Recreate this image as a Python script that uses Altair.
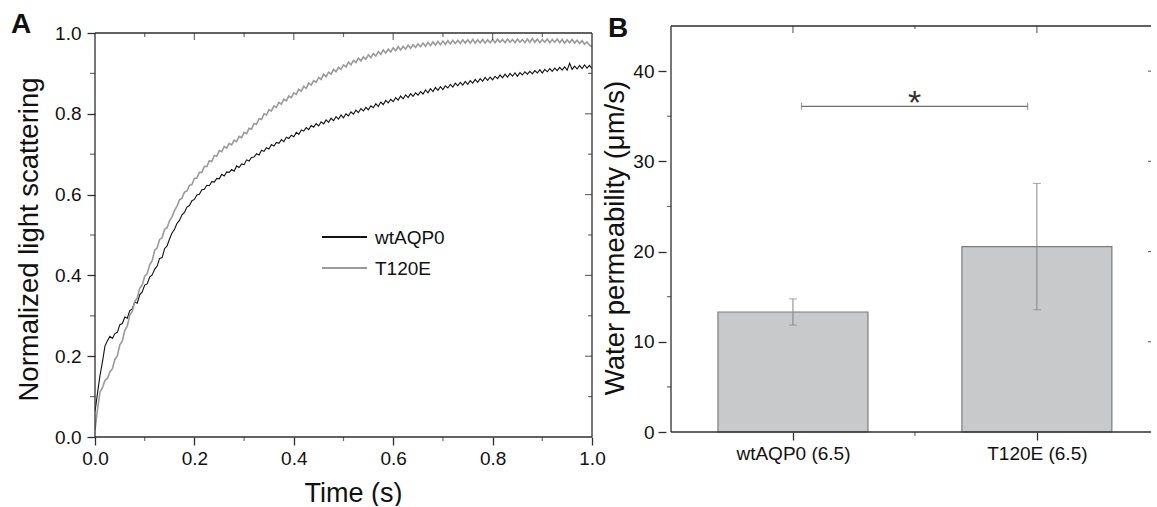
import altair as alt
import pandas as pd

FONT = "Liberation Sans"
INK = "#111111"
FRAME = "#2e2e2e"

# ---------------- Panel A: stopped-flow light scattering ----------------
series_names = ["wtAQP0", "T120E"]
series_colors = ["#111111", "#9a9a9a"]
series_widths = [1.1, 1.6]

time_step = 0.005  # s between samples
wt_signal = [
    0.063, 0.108, 0.152, 0.186, 0.225, 0.238, 0.249, 0.244, 0.256, 0.259,
    0.278, 0.281, 0.297, 0.294, 0.313, 0.317, 0.334, 0.331, 0.352, 0.359,
    0.376, 0.379, 0.396, 0.401, 0.415, 0.423, 0.442, 0.444, 0.466, 0.473,
    0.490, 0.505, 0.514, 0.529, 0.536, 0.550, 0.556, 0.569, 0.573, 0.585,
    0.588, 0.599, 0.601, 0.612, 0.613, 0.623, 0.622, 0.632, 0.631, 0.640,
    0.639, 0.650, 0.646, 0.656, 0.655, 0.662, 0.658, 0.671, 0.667, 0.676,
    0.674, 0.686, 0.683, 0.692, 0.693, 0.701, 0.698, 0.710, 0.707, 0.716,
    0.713, 0.724, 0.720, 0.729, 0.727, 0.736, 0.731, 0.742, 0.739, 0.747,
    0.743, 0.754, 0.749, 0.760, 0.757, 0.766, 0.761, 0.771, 0.767, 0.776,
    0.770, 0.780, 0.775, 0.785, 0.779, 0.789, 0.783, 0.793, 0.787, 0.797,
    0.790, 0.800, 0.795, 0.805, 0.799, 0.809, 0.803, 0.813, 0.807, 0.816,
    0.810, 0.820, 0.815, 0.825, 0.818, 0.829, 0.823, 0.833, 0.827, 0.836,
    0.830, 0.840, 0.834, 0.844, 0.837, 0.847, 0.840, 0.850, 0.843, 0.852,
    0.846, 0.855, 0.849, 0.859, 0.852, 0.862, 0.855, 0.865, 0.858, 0.867,
    0.860, 0.869, 0.864, 0.873, 0.866, 0.876, 0.869, 0.878, 0.871, 0.880,
    0.873, 0.882, 0.876, 0.885, 0.878, 0.887, 0.881, 0.890, 0.883, 0.891,
    0.884, 0.893, 0.887, 0.896, 0.889, 0.898, 0.891, 0.900, 0.893, 0.901,
    0.893, 0.902, 0.896, 0.904, 0.898, 0.905, 0.899, 0.907, 0.901, 0.909,
    0.901, 0.910, 0.904, 0.912, 0.905, 0.913, 0.907, 0.915, 0.908, 0.916,
    0.908, 0.925, 0.910, 0.918, 0.911, 0.920, 0.912, 0.921, 0.913, 0.920,
    0.912,
]
t120e_signal = [
    0.017, 0.068, 0.111, 0.122, 0.140, 0.145, 0.161, 0.169, 0.192, 0.201,
    0.228, 0.238, 0.264, 0.275, 0.302, 0.311, 0.336, 0.344, 0.368, 0.376,
    0.398, 0.404, 0.426, 0.436, 0.462, 0.468, 0.489, 0.493, 0.514, 0.518,
    0.535, 0.545, 0.561, 0.571, 0.587, 0.591, 0.606, 0.609, 0.623, 0.625,
    0.640, 0.641, 0.655, 0.655, 0.670, 0.669, 0.684, 0.682, 0.697, 0.695,
    0.709, 0.706, 0.719, 0.715, 0.727, 0.723, 0.735, 0.731, 0.744, 0.741,
    0.754, 0.751, 0.764, 0.762, 0.776, 0.774, 0.788, 0.786, 0.800, 0.797,
    0.810, 0.807, 0.819, 0.816, 0.828, 0.824, 0.836, 0.832, 0.844, 0.840,
    0.852, 0.848, 0.861, 0.856, 0.868, 0.863, 0.876, 0.871, 0.882, 0.878,
    0.890, 0.885, 0.898, 0.892, 0.903, 0.898, 0.910, 0.904, 0.915, 0.910,
    0.921, 0.916, 0.928, 0.921, 0.932, 0.927, 0.938, 0.931, 0.941, 0.935,
    0.946, 0.939, 0.949, 0.943, 0.954, 0.947, 0.958, 0.950, 0.960, 0.953,
    0.963, 0.956, 0.966, 0.958, 0.967, 0.960, 0.970, 0.962, 0.971, 0.964,
    0.973, 0.966, 0.975, 0.967, 0.977, 0.969, 0.978, 0.970, 0.979, 0.971,
    0.980, 0.972, 0.981, 0.973, 0.982, 0.974, 0.982, 0.974, 0.983, 0.975,
    0.983, 0.975, 0.984, 0.975, 0.983, 0.976, 0.984, 0.975, 0.983, 0.976,
    0.984, 0.976, 0.985, 0.977, 0.984, 0.976, 0.985, 0.977, 0.984, 0.976,
    0.985, 0.977, 0.984, 0.976, 0.985, 0.977, 0.986, 0.977, 0.985, 0.976,
    0.984, 0.977, 0.985, 0.976, 0.984, 0.977, 0.985, 0.976, 0.984, 0.975,
    0.983, 0.976, 0.984, 0.975, 0.982, 0.974, 0.981, 0.972, 0.978, 0.970,
    0.966,
]
time_s = [round(i * time_step, 3) for i in range(len(wt_signal))]

x_ticks_a = [0.0, 0.2, 0.4, 0.6, 0.8, 1.0]
x_minor_a = [0.1, 0.3, 0.5, 0.7, 0.9]
y_ticks_a = [0.0, 0.2, 0.4, 0.6, 0.8, 1.0]
y_minor_a = [0.1, 0.3, 0.5, 0.7, 0.9]

# ---------------- Panel B: osmotic water permeability ----------------
groups = ["wtAQP0 (6.5)", "T120E (6.5)"]
group_pos = [1, 2]
permeability = [13.3, 20.55]
permeability_sd = [1.45, 7.0]
sig_span = [1.035, 1.962]
sig_level = 36.1
sig_mark = "*"
y_ticks_b = [0, 10, 20, 30, 40]
y_minor_b = [5, 15, 25, 35]
x_minor_b = [1.5]
y_right_b = [10, 20, 30, 40]

# ---------------- geometry ----------------
W_A, H_A = 497, 411
A_TOP = 1.0 * H_A / 404          # scale top sits a little above the 1.0 frame line
W_B, H_B = 490, 406
B_YMAX = 45
B_STEP = 249                      # pixels between the two bar centres
B_XMIN, B_XMAX = 0.5, 0.5 + W_B / B_STEP

one = pd.DataFrame({"k": [0]})

sx_a = alt.Scale(domain=[0, 1], nice=False, zero=False)
sy_a = alt.Scale(domain=[0, A_TOP], nice=False, zero=False)
sx_b = alt.Scale(domain=[B_XMIN, B_XMAX], nice=False, zero=False)
sy_b = alt.Scale(domain=[0, B_YMAX], nice=False, zero=False)

axis_common = dict(
    grid=False, domain=False, tickColor=FRAME, tickWidth=1.3, tickSize=8,
    labelFont=FONT, labelFontSize=19, labelColor=INK, labelFlush=False,
    labelOverlap=False, titleFont=FONT, titleColor=INK, titleFontWeight="normal",
)

# every layer of a panel carries the same axis definition so they merge cleanly
xa_axis = alt.Axis(values=x_ticks_a, format=".1f", title="Time (s)", labelPadding=4,
                   titleFontSize=27, titleX=258, titleY=64, titleBaseline="alphabetic",
                   **axis_common)
ya_axis = alt.Axis(values=y_ticks_a, format=".1f", title="Normalized light scattering",
                   labelPadding=6, titleFontSize=27.5, titleX=-58, titleY=213,
                   titleBaseline="alphabetic", titleAngle=270, **axis_common)

label_expr = " : ".join(
    f"datum.value == {p} ? '{g}'" for p, g in zip(group_pos[:-1], groups[:-1])
) + f" : '{groups[-1]}'"
xb_axis = alt.Axis(values=group_pos, labelExpr=label_expr, title=None, labelPadding=4,
                   **axis_common)
yb_axis = alt.Axis(values=y_ticks_b, format="d", title="Water permeability (μm/s)",
                   labelPadding=4, titleFontSize=27.5, titleX=-43, titleY=211.5,
                   titleBaseline="alphabetic", titleAngle=270, **axis_common)

AX = {"a": (sx_a, sy_a, xa_axis, ya_axis), "b": (sx_b, sy_b, xb_axis, yb_axis)}


def xf(panel, field):
    return alt.X(field, type="quantitative", scale=AX[panel][0], axis=AX[panel][2])


def yf(panel, field):
    return alt.Y(field, type="quantitative", scale=AX[panel][1], axis=AX[panel][3])


def xd(panel, value):
    return alt.XDatum(value, type="quantitative", scale=AX[panel][0], axis=AX[panel][2])


def yd(panel, value):
    return alt.YDatum(value, type="quantitative", scale=AX[panel][1], axis=AX[panel][3])


def tick_layer(panel, values, along, fixed, length, offset):
    df = pd.DataFrame({"v": values})
    if along == "x":
        return alt.Chart(df).mark_tick(orient="vertical", size=length, thickness=1.2,
                                       yOffset=offset, color=FRAME).encode(
            x=xf(panel, "v"), y=yd(panel, fixed))
    return alt.Chart(df).mark_tick(orient="horizontal", size=length, thickness=1.2,
                                   xOffset=offset, color=FRAME).encode(
        y=yf(panel, "v"), x=xd(panel, fixed))


# ---- panel A layers ----
line_layers = []
for name, vals, col, w in zip(series_names, [wt_signal, t120e_signal], series_colors, series_widths):
    df = pd.DataFrame({"t": time_s, "v": vals})
    line_layers.append(
        alt.Chart(df).mark_line(color=col, strokeWidth=w, clip=True).encode(
            x=xf("a", "t"), y=yf("a", "v"))
    )

frame_a = pd.DataFrame({"x1": [0, 0, 0, 1], "x2": [1, 1, 0, 1],
                        "y1": [0, 1, 0, 0], "y2": [0, 1, 1, 1]})
frame_a_layer = alt.Chart(frame_a).mark_rule(color=FRAME, strokeWidth=1.3).encode(
    x=xf("a", "x1"), x2="x2:Q", y=yf("a", "y1"), y2="y2:Q")

ticks_a = [
    tick_layer("a", x_minor_a, "x", 0.0, 4, 2),              # bottom minor
    tick_layer("a", y_minor_a, "y", 0.0, 5, -2.5),           # left minor
    tick_layer("a", x_ticks_a[1:-1], "x", 1.0, 7, 3.5),      # top major
    tick_layer("a", x_minor_a, "x", 1.0, 4, 2),              # top minor
    tick_layer("a", y_ticks_a[1:-1], "y", 1.0, 7, -3.5),     # right major
    tick_layer("a", y_minor_a, "y", 1.0, 4, -2),             # right minor
]

legend_layers = []
for i, (name, col) in enumerate(zip(series_names, series_colors)):
    ly = 211 + 31 * i
    legend_layers.append(
        alt.Chart(one).mark_rule(color=col, strokeWidth=2).encode(
            x=alt.value(227), x2=alt.value(272), y=alt.value(ly))
    )
    legend_layers.append(
        alt.Chart(one).mark_text(font=FONT, fontSize=19, color=INK, align="left",
                                 baseline="middle").encode(
            x=alt.value(280), y=alt.value(ly + 1), text=alt.value(name))
    )

label_a = alt.Chart(one).mark_text(font=FONT, fontSize=28, fontWeight="bold", color=INK,
                                   align="left", baseline="alphabetic").encode(
    x=alt.value(-84), y=alt.value(7.3), text=alt.value("A"))

# invisible corner marker so the page origin lands at a fixed offset from the plot
corner = alt.Chart(one).mark_rule(strokeOpacity=0, color="white").encode(
    x=alt.value(-95), x2=alt.value(-94), y=alt.value(-26))

panel_a = alt.layer(
    *line_layers, frame_a_layer, *ticks_a, *legend_layers, label_a, corner
).properties(width=W_A, height=H_A)

# ---- panel B layers ----
df_b = pd.DataFrame({"group": groups, "pos": group_pos, "mean": permeability,
                     "sd": permeability_sd})
df_b["lo"] = df_b["mean"] - df_b["sd"]
df_b["hi"] = df_b["mean"] + df_b["sd"]

bars = alt.Chart(df_b).mark_bar(orient="vertical", size=150, color="#c8c9cb",
                                stroke="#7d7d7d", strokeWidth=1.2).encode(
    x=xf("b", "pos"), y=yf("b", "mean"), y2=alt.Y2Datum(0))
err = alt.Chart(df_b).mark_rule(color="#858585", strokeWidth=1).encode(
    x=xf("b", "pos"), y=yf("b", "lo"), y2="hi:Q")
caps_df = pd.DataFrame({"pos": group_pos * 2,
                        "end": list(df_b["lo"]) + list(df_b["hi"])})
caps = alt.Chart(caps_df).mark_tick(orient="horizontal", size=8, thickness=1,
                                    color="#858585").encode(
    x=xf("b", "pos"), y=yf("b", "end"))

bracket = alt.Chart(one).mark_rule(color="#707070", strokeWidth=1.3).encode(
    x=xd("b", sig_span[0]), x2=alt.X2Datum(sig_span[1]), y=yd("b", sig_level))
bracket_ends = alt.Chart(pd.DataFrame({"x": sig_span})).mark_tick(
    orient="vertical", size=7, thickness=1.2, color="#707070").encode(
    x=xf("b", "x"), y=yd("b", sig_level))
star = alt.Chart(one).mark_text(font=FONT, fontSize=34, color="#333333",
                                baseline="alphabetic", dy=8).encode(
    x=xd("b", sum(sig_span) / 2), y=yd("b", sig_level), text=alt.value(sig_mark))

frame_b = pd.DataFrame({"x1": [B_XMIN, B_XMIN, B_XMIN], "x2": [B_XMIN, B_XMAX, B_XMAX],
                        "y1": [0, 0, B_YMAX], "y2": [B_YMAX, 0, B_YMAX]})
frame_b_layer = alt.Chart(frame_b).mark_rule(color=FRAME, strokeWidth=1.3).encode(
    x=xf("b", "x1"), x2="x2:Q", y=yf("b", "y1"), y2="y2:Q")

ticks_b = [
    tick_layer("b", y_minor_b, "y", B_XMIN, 4, -2),          # left minor
    tick_layer("b", x_minor_b, "x", 0, 4, 2),                # bottom minor
    tick_layer("b", group_pos, "x", B_YMAX, 7, 3.5),         # top major
    tick_layer("b", x_minor_b, "x", B_YMAX, 3, 1.5),         # top minor
    tick_layer("b", y_right_b, "y", B_XMAX, 3, -1.5),        # right side
]

label_b = alt.Chart(one).mark_text(font=FONT, fontSize=28, fontWeight="bold", color=INK,
                                   align="left", baseline="alphabetic").encode(
    x=alt.value(-58), y=alt.value(10.5), text=alt.value("B"))

panel_b = alt.layer(
    bars, err, caps, bracket, bracket_ends, star, frame_b_layer, *ticks_b, label_b
).properties(width=W_B, height=H_B)

chart = (
    alt.hconcat(panel_a, panel_b, spacing=74, bounds="flush")
    .properties(padding=0, background="white")
    .configure_view(stroke=None)
)

chart.save("out.html", embed_options={"renderer": "svg", "actions": False})
